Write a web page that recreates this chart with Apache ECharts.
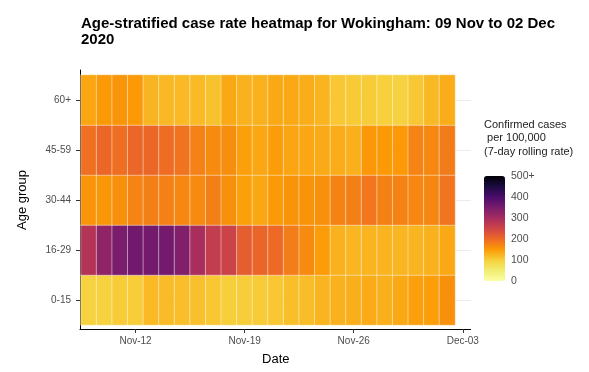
<!DOCTYPE html>
<html>
<head>
<meta charset="utf-8">
<script src="https://cdn.jsdelivr.net/npm/echarts@6/dist/echarts.min.js"></script>
<style>html,body{margin:0;padding:0;background:#fff}#c{width:589px;height:372px}</style>
</head>
<body>
<div id="c"></div>
<script>
var dates = ['Nov-09','Nov-10','Nov-11','Nov-12','Nov-13','Nov-14','Nov-15','Nov-16','Nov-17','Nov-18','Nov-19','Nov-20','Nov-21','Nov-22','Nov-23','Nov-24','Nov-25','Nov-26','Nov-27','Nov-28','Nov-29','Nov-30','Dec-01','Dec-02','Dec-03'];
var tickLabels = ['Nov-12','Nov-19','Nov-26','Dec-03'];
var ageGroups = ['0-15','16-29','30-44','45-59','60+'];
var age0_15  = [96,97,104,103,120,119,116,115,108,101,103,104,108,116,118,126,129,131,134,130,136,144,146,160];
var age16_29 = [283,325,348,358,356,355,340,295,265,255,215,205,200,180,165,148,128,124,126,126,124,126,128,137];
var age30_44 = [155,153,160,172,178,176,168,166,178,160,145,138,150,156,157,160,173,178,187,176,173,168,170,188];
var age45_59 = [193,203,195,203,203,196,190,175,165,162,145,138,147,140,138,135,132,130,152,150,150,172,168,182];
var age60    = [140,150,155,150,125,122,120,120,113,137,128,128,136,136,132,126,108,106,104,100,96,107,121,132];
var legendBreaks = [0,100,200,300,400,500];

var rows = [age0_15, age16_29, age30_44, age45_59, age60];
var data = [];
rows.forEach(function (r, yi) { r.forEach(function (v, xi) { data.push([xi, yi, v]); }); });

var inferno = ['#FCFFA4','#F1ED71','#F7D03C','#FB9A06','#ED6925','#CF4446','#A52C60','#781C6D','#4B0C6B','#1B0C42','#000004'];
var font = 'Liberation Sans, Arial, sans-serif';
var clear = 'rgba(0,0,0,0)';
function isTick(i, v) { return tickLabels.indexOf(dates[i]) >= 0; }

var chart = echarts.init(document.getElementById('c'));
chart.setOption({
  animation: false,
  textStyle: { fontFamily: font },
  title: [
    { text: 'Age-stratified case rate heatmap for Wokingham: 09 Nov to 02 Dec\n2020', left: 81, top: 16, padding: 0,
      textStyle: { fontSize: 15, fontWeight: 'bold', color: '#000', lineHeight: 16, fontFamily: font } },
    { text: 'Confirmed cases\n per 100,000\n(7-day rolling rate)', left: 484, top: 118, padding: 0,
      textStyle: { fontSize: 11, fontWeight: 'normal', color: '#222', lineHeight: 13.5, fontFamily: font } }
  ],
  grid: [
    { left: 81, top: 75, width: 389.6, height: 250 },
    { left: 484, top: 176, width: 21, height: 105 },
    { left: 80, top: 70, width: 390.6, height: 259 }
  ],
  xAxis: [
    { type: 'category', gridIndex: 0, data: dates, offset: 4, z: 5,
      axisLine: { show: true, lineStyle: { color: clear, width: 1 } },
      axisTick: { show: true, alignWithLabel: true, interval: isTick, length: 4, lineStyle: { color: '#333', width: 1 } },
      axisLabel: { interval: isTick, fontSize: 10, color: '#4D4D4D', margin: 7 },
      splitLine: { show: false },
      name: 'Date', nameLocation: 'middle', nameGap: 24,
      nameTextStyle: { fontSize: 13, color: '#000' } },
    { type: 'value', gridIndex: 1, show: false, min: 0, max: 1 },
    { type: 'value', gridIndex: 2, min: 0, max: 1, position: 'bottom',
      axisLine: { show: true, onZero: false, lineStyle: { color: '#000', width: 1 } },
      axisTick: { show: false }, axisLabel: { show: false }, splitLine: { show: false } }
  ],
  yAxis: [
    { type: 'category', gridIndex: 0, data: ageGroups, offset: 1, z: 5, position: 'left',
      axisLine: { show: true, lineStyle: { color: clear, width: 1 } },
      axisTick: { show: true, alignWithLabel: true, interval: 0, length: 4, lineStyle: { color: '#333', width: 1 } },
      axisLabel: { fontSize: 10, color: '#4D4D4D', margin: 9 },
      splitLine: { show: false },
      name: 'Age group', nameLocation: 'middle', nameGap: 51, nameRotate: 90,
      nameTextStyle: { fontSize: 13, color: '#000' } },
    { type: 'category', gridIndex: 0, position: 'right', boundaryGap: false,
      data: ['a','b','c','d','e','f','g','h','i','j','k'],
      axisLine: { show: false }, axisTick: { show: false }, axisLabel: { show: false },
      splitLine: { show: true, interval: function (i) { return i % 2 === 1; }, lineStyle: { color: '#EBEBEB', width: 1 } } },
    { type: 'value', gridIndex: 1, position: 'right', min: 0, max: 500, interval: 100, z: 10,
      axisLine: { show: true, lineStyle: { color: clear } }, splitLine: { show: false },
      axisTick: { show: true, inside: true, length: 4, lineStyle: { color: '#fff', width: 1 } },
      axisLabel: { fontSize: 10.5, color: '#4D4D4D', margin: 6,
        formatter: function (v) { return v === legendBreaks[legendBreaks.length - 1] ? v + '+' : String(v); } } },
    { type: 'value', gridIndex: 2, min: 0, max: 1, position: 'left',
      axisLine: { show: true, onZero: false, lineStyle: { color: '#000', width: 1 } },
      axisTick: { show: false }, axisLabel: { show: false }, splitLine: { show: false } }
  ],
  visualMap: {
    type: 'continuous', min: 0, max: 500, seriesIndex: 0, calculable: false,
    orient: 'vertical', left: 484, top: 176, itemWidth: 21, itemHeight: 105, padding: 0,
    text: null, showLabel: false,
    inRange: { color: inferno }
  },
  series: [{
    type: 'heatmap', xAxisIndex: 0, yAxisIndex: 0, data: data,
    itemStyle: { borderColor: 'rgba(255,255,255,0.45)', borderWidth: 1 },
    emphasis: { disabled: true }
  }]
});
</script>
</body>
</html>
